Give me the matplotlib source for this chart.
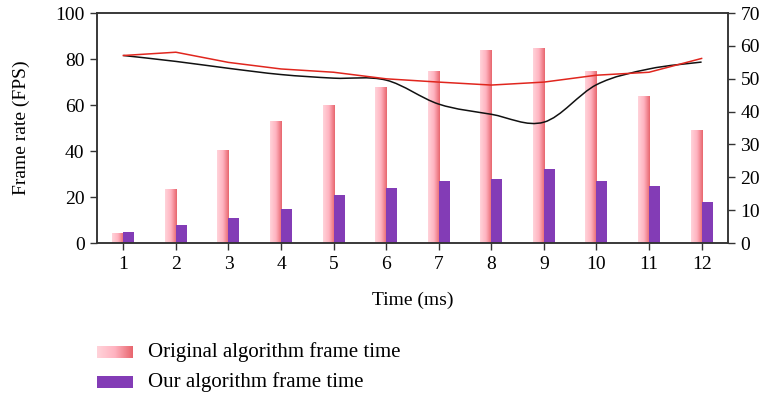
import numpy as np
import matplotlib
matplotlib.use("Agg")
import matplotlib.pyplot as plt
from matplotlib.path import Path
from matplotlib.patches import PathPatch, Rectangle
from matplotlib.colors import LinearSegmentedColormap

plt.rcParams['font.family'] = ['Liberation Serif', 'DejaVu Serif']
plt.rcParams['font.size'] = 14

times = np.arange(1, 13)
original = [4.5, 23.5, 40.5, 53, 60, 68, 75, 84, 85, 75, 64, 49]
ours = [5, 8, 11, 15, 21, 24, 27, 28, 32, 27, 25, 18]
red_line = [57.1, 58.1, 55.0, 53.0, 52.0, 50.0, 49.0, 48.1, 49.0, 51.1, 52.0, 56.2]
black_line = [57.1, 55.3, 53.2, 51.3, 50.2, 49.6, 42.3, 39.2, 36.8, 48.2, 53.0, 55.1]

pink_cmap = LinearSegmentedColormap.from_list('pink', ['#ffd3da', '#ffb3c0', '#e8666e'])
purple = '#833cb6'


def smooth(x, y):
    # Catmull-Rom segments turned into cubic beziers
    verts = [(x[0], y[0])]
    codes = [Path.MOVETO]
    n = len(x)
    for i in range(n - 1):
        x0, y0 = (x[i - 1], y[i - 1]) if i > 0 else (x[i], y[i])
        x3, y3 = (x[i + 2], y[i + 2]) if i + 2 < n else (x[i + 1], y[i + 1])
        c1 = (x[i] + (x[i + 1] - x0) / 6, y[i] + (y[i + 1] - y0) / 6)
        c2 = (x[i + 1] - (x3 - x[i]) / 6, y[i + 1] - (y3 - y[i]) / 6)
        verts += [c1, c2, (x[i + 1], y[i + 1])]
        codes += [Path.CURVE4] * 3
    return Path(verts, codes)


fig = plt.figure(figsize=(7.67, 3.98), dpi=100)
ax = fig.add_axes([0.1265, 0.3894, 0.8225, 0.5776])
w = 0.21

bars = ax.bar(times - w / 2, original, width=w, color='none', linewidth=0)
grad = np.linspace(0, 1, 64).reshape(1, -1)
for b in bars:
    im = ax.imshow(grad, cmap=pink_cmap, aspect='auto',
                   extent=(b.get_x(), b.get_x() + b.get_width(), 0, b.get_height()),
                   zorder=2)
    im.set_clip_path(b)
ax.bar(times + w / 2, ours, width=w, color=purple, linewidth=0, zorder=2)

ax.set_xlim(0.5, 12.5)
ax.set_ylim(0, 100)
ax.set_xticks(times)
ax.set_yticks(range(0, 101, 20))
ax.set_xlabel('Time (ms)', labelpad=14)
ax.set_ylabel('Frame rate (FPS)', labelpad=18)
ax.tick_params(length=5, width=1, color='#333333', pad=4)

ax2 = ax.twinx()
ax2.set_ylim(0, 70)
ax2.set_yticks(range(0, 71, 10))
ax2.tick_params(length=5, width=1, color='#333333', pad=4)
ax2.plot(times, red_line, color='#e0261e', linewidth=1.1)
ax2.add_patch(PathPatch(smooth(times, black_line), facecolor='none',
                        edgecolor='#111111', linewidth=1.1))

for a in (ax, ax2):
    for s in a.spines.values():
        s.set_linewidth(1.1)
        s.set_color('#333333')

# legend below the plot
lax = fig.add_axes([0, 0, 1, 1], zorder=-1)
lax.axis('off')
lax.imshow(grad, cmap=pink_cmap, aspect='auto', extent=(97, 133, 358, 346))
lax.add_patch(Rectangle((97, 376), 36, 12, color=purple, linewidth=0))
lax.text(148, 352, 'Original algorithm frame time', va='center', ha='left', fontsize=15)
lax.text(148, 382, 'Our algorithm frame time', va='center', ha='left', fontsize=15)
lax.set_xlim(0, 767)
lax.set_ylim(398, 0)

fig.savefig('out.png', dpi=100)
